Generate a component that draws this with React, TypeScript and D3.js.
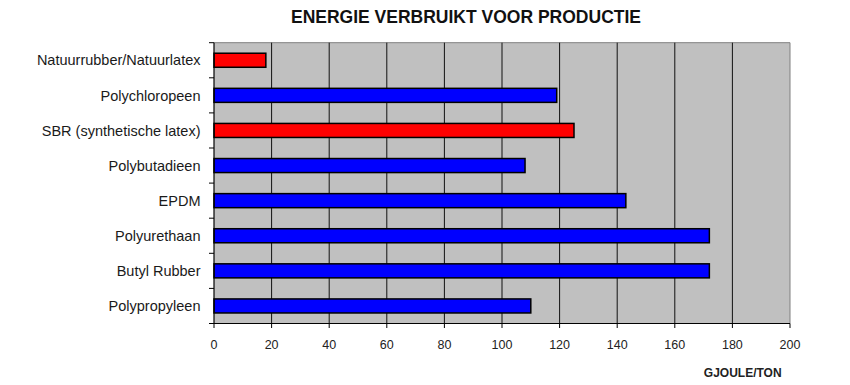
import React from "react";
import * as d3 from "d3";

const categories = [
  "Natuurrubber/Natuurlatex",
  "Polychloropeen",
  "SBR (synthetische latex)",
  "Polybutadieen",
  "EPDM",
  "Polyurethaan",
  "Butyl Rubber",
  "Polypropyleen",
];
const values = [18, 119, 125, 108, 143, 172, 172, 110];
const natural = [true, false, true, false, false, false, false, false];
const xTicks = [0, 20, 40, 60, 80, 100, 120, 140, 160, 180, 200];

const title = "ENERGIE VERBRUIKT VOOR PRODUCTIE";
const unit = "GJOULE/TON";

export default function App() {
  const width = 850;
  const height = 385;
  const left = 214;
  const right = 790;
  const top = 42.7;
  const bottom = 323.5;

  const xScale = d3.scaleLinear().domain([0, 200]).range([left, right]);
  const yScale = d3
    .scaleBand()
    .domain(categories)
    .range([top, bottom])
    .paddingInner(0.6)
    .paddingOuter(0.3);

  const step = yScale.step();
  // grenzen tussen de categorieen (tickjes links)
  const bounds = d3.range(categories.length + 1).map((i) => top + i * step);

  const font = "'Liberation Sans', Arial, sans-serif";

  return (
    <svg
      width={width}
      height={height}
      style={{ position: "absolute", left: 0, top: 0, background: "#fff" }}
      fontFamily={font}
    >
      <text
        x={466}
        y={22.7}
        textAnchor="middle"
        fontSize={17.5}
        fontWeight="bold"
        fill="#111"
      >
        {title}
      </text>

      {/* plotgebied */}
      <rect x={left} y={top} width={right - left} height={bottom - top} fill="#c0c0c0" />
      <line x1={left} x2={right} y1={top} y2={top} stroke="#808080" strokeWidth={1} />
      <line x1={right} x2={right} y1={top} y2={bottom} stroke="#808080" strokeWidth={1} />

      {/* verticale rasterlijnen */}
      {xTicks.slice(1, -1).map((t) => (
        <line
          key={t}
          x1={xScale(t)}
          x2={xScale(t)}
          y1={top}
          y2={bottom}
          stroke="#111"
          strokeWidth={1}
        />
      ))}

      {/* balken */}
      {categories.map((c, i) => (
        <rect
          key={c}
          x={xScale(0)}
          y={yScale(c)}
          width={xScale(values[i]) - xScale(0)}
          height={yScale.bandwidth()}
          fill={natural[i] ? "#ff0000" : "#0000ff"}
          stroke="#000"
          strokeWidth={1.5}
        />
      ))}

      {/* y-as */}
      <line x1={left} x2={left} y1={top} y2={bottom} stroke="#000" strokeWidth={1.2} />
      {bounds.map((b, i) => (
        <line key={i} x1={left - 5} x2={left} y1={b} y2={b} stroke="#000" strokeWidth={1} />
      ))}
      {categories.map((c) => (
        <text
          key={c}
          x={200.5}
          y={(yScale(c) ?? 0) + yScale.bandwidth() / 2}
          dy="0.36em"
          textAnchor="end"
          fontSize={14.5}
          fill="#1a1a1a"
        >
          {c}
        </text>
      ))}

      {/* x-as */}
      <line x1={left} x2={right} y1={bottom} y2={bottom} stroke="#000" strokeWidth={1.2} />
      {xTicks.map((t) => (
        <g key={t}>
          <line
            x1={xScale(t)}
            x2={xScale(t)}
            y1={bottom}
            y2={bottom + 4.5}
            stroke="#000"
            strokeWidth={1}
          />
          <text
            x={xScale(t)}
            y={349.3}
            textAnchor="middle"
            fontSize={12.5}
            fill="#222"
          >
            {t}
          </text>
        </g>
      ))}

      <text
        x={742.7}
        y={376.7}
        textAnchor="middle"
        fontSize={12}
        fontWeight="bold"
        fill="#222"
      >
        {unit}
      </text>
    </svg>
  );
}
